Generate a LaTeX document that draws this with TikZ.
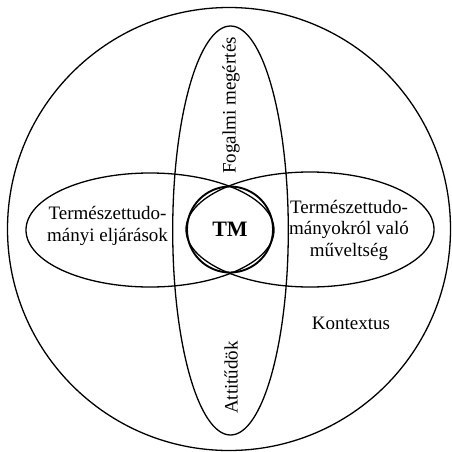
\documentclass[tikz,border=0pt]{standalone}
\usepackage{fontspec}
\setmainfont{Liberation Serif}
\begin{document}
\begin{tikzpicture}[x=1pt,y=-1pt,
  outline/.style={draw=black,line width=1.3pt},
  tmring/.style={draw=black,line width=1.9pt},
  lbl/.style={inner sep=0pt,align=center,font=\fontsize{19}{21.5}\selectfont},
  tmlbl/.style={inner sep=0pt,font=\fontsize{22}{24}\selectfont\bfseries}]
\useasboundingbox (0,0) rectangle (451,452);
\draw[outline] (229,229) circle [radius=221.5pt];
\draw[outline] (230.5,230.5) ellipse [x radius=57.8pt, y radius=204.5pt];
\draw[outline] (150,230) ellipse [x radius=124pt, y radius=57pt];
\draw[outline] (310,229.5) ellipse [x radius=124pt, y radius=57.5pt];
\draw[tmring] (230,229.5) circle [radius=43pt];
\node[lbl,rotate=90] (fog) at (231,105.5) {Fogalmi megértés};
\node[lbl,rotate=90] (att) at (231,377.5) {Attitűdök};
\node[lbl] (elj) at (107.5,226) {Természettudo-\\mányi eljárások};
\node[lbl] (muv) at (349,230) {Természettudo-\\mányokról való\\műveltség};
\node[lbl] (kon) at (351,323) {Kontextus};
\node[tmlbl] (tm) at (230,229) {TM};
\end{tikzpicture}
\end{document}
